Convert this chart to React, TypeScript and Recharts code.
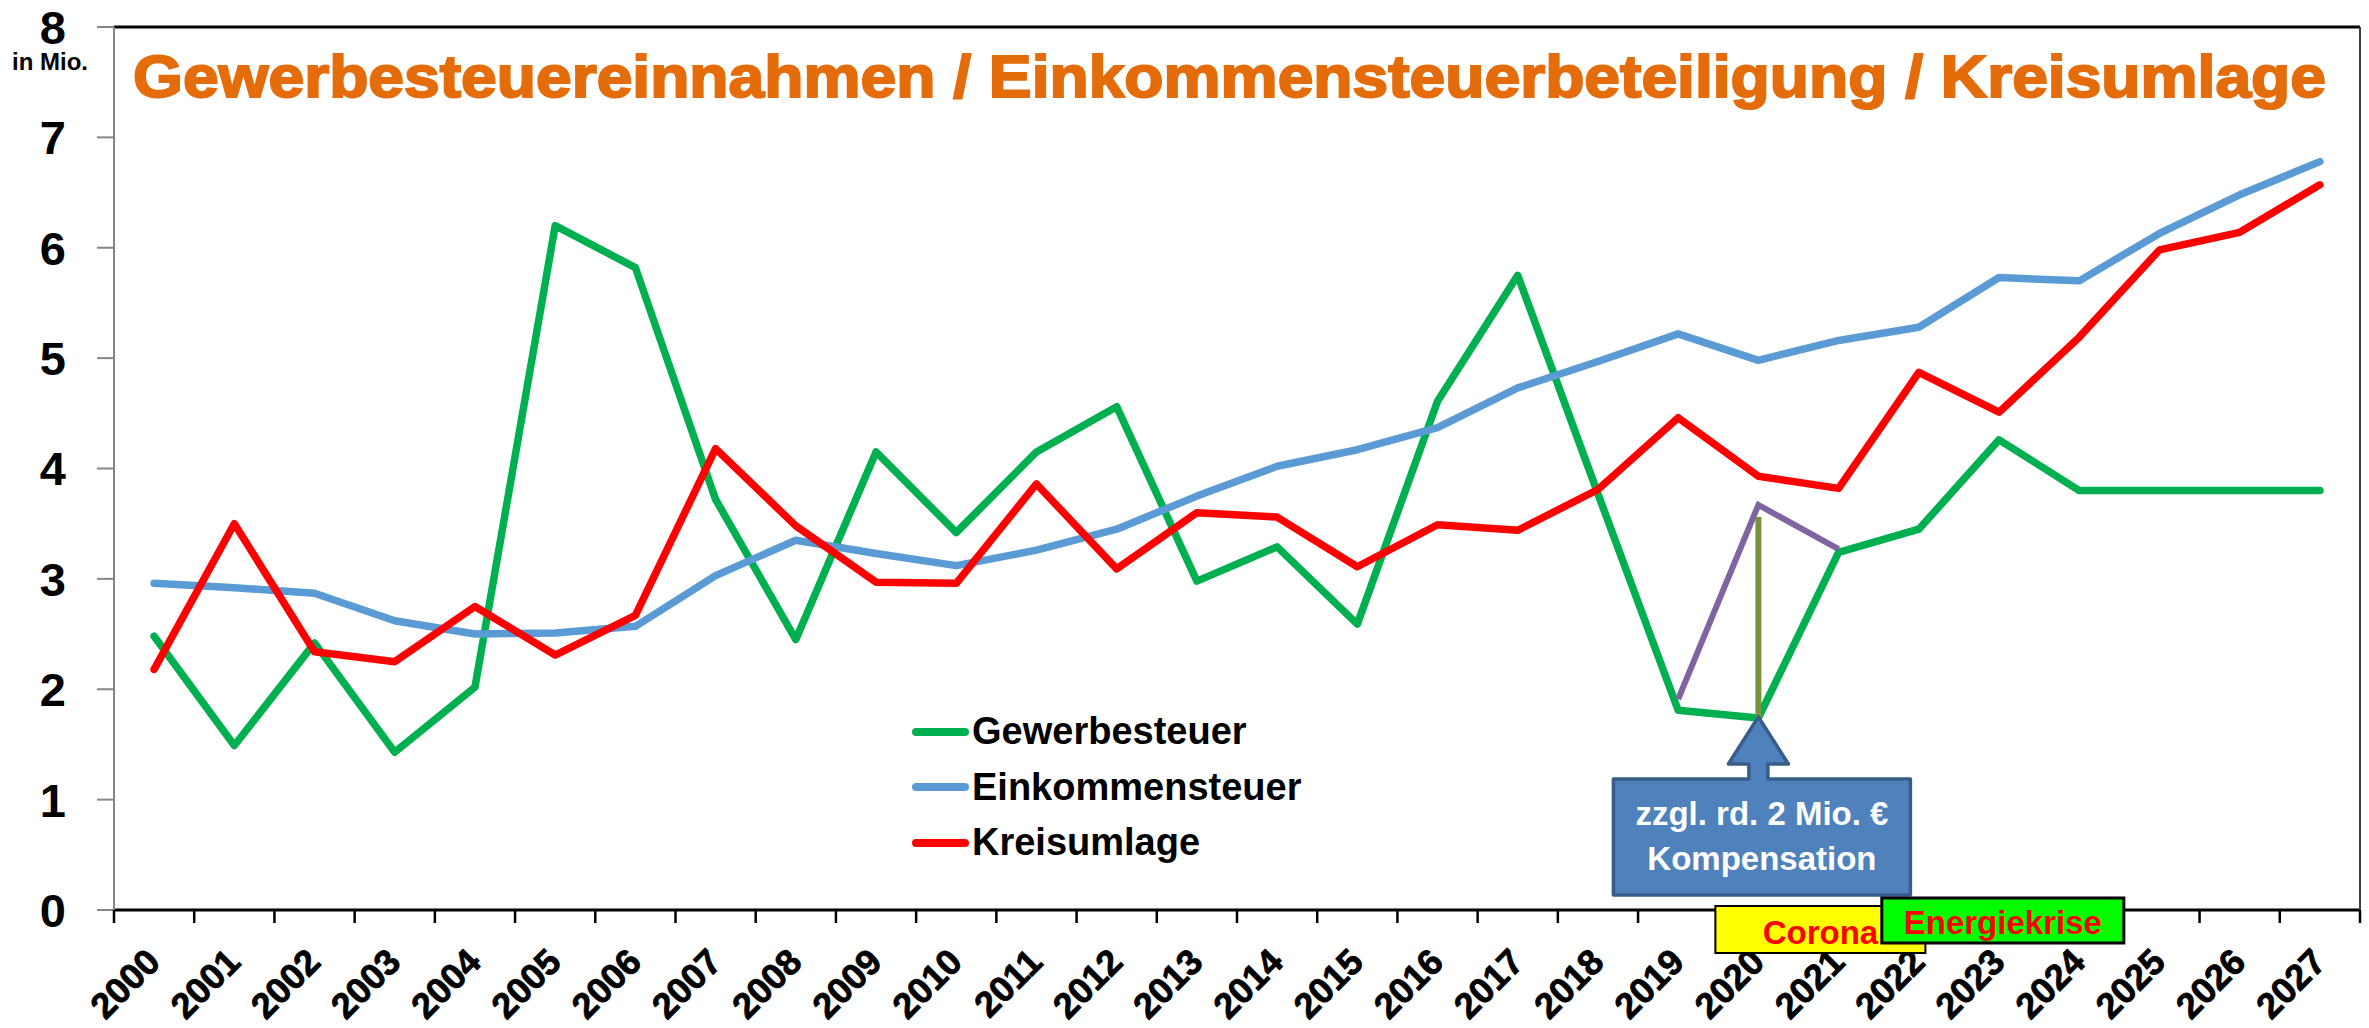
import React from 'react';
import {
  LineChart,
  Line,
  XAxis,
  YAxis,
  CartesianGrid,
  ReferenceLine,
  ReferenceDot,
  Legend,
} from 'recharts';

// ---------- data ----------
const years = [
  '2000', '2001', '2002', '2003', '2004', '2005', '2006', '2007', '2008', '2009',
  '2010', '2011', '2012', '2013', '2014', '2015', '2016', '2017', '2018', '2019',
  '2020', '2021', '2022', '2023', '2024', '2025', '2026', '2027',
];
const gewerbesteuer = [
  2.48, 1.49, 2.42, 1.43, 2.02, 6.2, 5.82, 3.72, 2.45, 4.15,
  3.42, 4.15, 4.56, 2.98, 3.29, 2.59, 4.61, 5.75, 3.77, 1.81,
  1.74, 3.24, 3.45, 4.26, 3.8, 3.8, 3.8, 3.8,
];
const einkommensteuer = [
  2.96, 2.92, 2.87, 2.62, 2.5, 2.51, 2.57, 3.03, 3.35, 3.23,
  3.12, 3.26, 3.45, 3.75, 4.02, 4.17, 4.37, 4.73, 4.97, 5.22,
  4.98, 5.16, 5.28, 5.73, 5.7, 6.13, 6.48, 6.78,
];
const kreisumlage = [
  2.18, 3.5, 2.34, 2.25, 2.75, 2.31, 2.67, 4.18, 3.48, 2.97,
  2.96, 3.86, 3.09, 3.6, 3.56, 3.11, 3.49, 3.44, 3.81, 4.46,
  3.93, 3.82, 4.87, 4.51, 5.19, 5.98, 6.14, 6.57,
];
const kompensation: (number | null)[] = [
  null, null, null, null, null, null, null, null, null, null,
  null, null, null, null, null, null, null, null, null, 1.91,
  3.67, 3.27, null, null, null, null, null, null,
];
const yTicks = [0, 1, 2, 3, 4, 5, 6, 7, 8];
const compensationYear = '2020';
const compensationTop = 3.56;
const coronaYear = '2020';
const energyYear = '2022';

const titleText = 'Gewerbesteuereinnahmen / Einkommensteuerbeteiligung / Kreisumlage';
const unitText = 'in Mio.';
const calloutLines = ['zzgl. rd. 2 Mio. €', 'Kompensation'];
const coronaText = 'Corona';
const energyText = 'Energiekrise';

const series = [
  { key: 'gewerbesteuer', name: 'Gewerbesteuer', color: '#00B050' },
  { key: 'einkommensteuer', name: 'Einkommensteuer', color: '#5B9BD5' },
  { key: 'kreisumlage', name: 'Kreisumlage', color: '#FF0000' },
];

const data = years.map((year, i) => ({
  year,
  gewerbesteuer: gewerbesteuer[i],
  einkommensteuer: einkommensteuer[i],
  kreisumlage: kreisumlage[i],
  kompensation: kompensation[i],
}));

// ---------- layout ----------
const W = 2369;
const H = 1028;
const PLOT_LEFT = 114;
const PLOT_RIGHT = 2360;
const PLOT_TOP = 27;
const PLOT_BOTTOM = 910;
const PLOT_WIDTH = PLOT_RIGHT - PLOT_LEFT;
const HALF_BAND = PLOT_WIDTH / years.length / 2;
const FONT = "'Liberation Sans', Arial, sans-serif";

function XTick(props: any) {
  const { x, y, payload, index } = props;
  const isLast = index === years.length - 1 || payload.value === years[years.length - 1];
  const ax = x + 8;
  const ay = y + 54;
  return (
    <g>
      <line x1={x - HALF_BAND} x2={x - HALF_BAND} y1={y} y2={y + 13} stroke="#000" strokeWidth={2.5} />
      {isLast && (
        <line x1={x + HALF_BAND} x2={x + HALF_BAND} y1={y} y2={y + 13} stroke="#000" strokeWidth={2.5} />
      )}
      <text
        x={ax}
        y={ay}
        textAnchor="end"
        transform={`rotate(-45 ${ax} ${ay})`}
        fontFamily={FONT}
        fontWeight="bold"
        fontSize={36}
        fill="#000"
        stroke="#000"
        strokeWidth={0.8}
      >
        {payload.value}
      </text>
    </g>
  );
}

function YTick(props: any) {
  const { x, y, payload } = props;
  return (
    <text
      x={x}
      y={y}
      dy="0.36em"
      textAnchor="end"
      fontFamily={FONT}
      fontWeight="bold"
      fontSize={47}
      fill="#000"
    >
      {payload.value}
    </text>
  );
}

function Callout(props: any) {
  const { cx, cy } = props;
  const tipY = cy - 1;
  const headY = cy + 46;
  const boxTop = cy + 61;
  const boxBottom = cy + 177;
  const boxL = cx - 145;
  const boxR = cx + 152;
  const d = [
    `M ${boxL} ${boxTop}`,
    `L ${cx - 9.5} ${boxTop}`,
    `L ${cx - 9.5} ${headY}`,
    `L ${cx - 30} ${headY}`,
    `L ${cx} ${tipY}`,
    `L ${cx + 30} ${headY}`,
    `L ${cx + 9.5} ${headY}`,
    `L ${cx + 9.5} ${boxTop}`,
    `L ${boxR} ${boxTop}`,
    `L ${boxR} ${boxBottom}`,
    `L ${boxL} ${boxBottom}`,
    'Z',
  ].join(' ');
  const tx = (boxL + boxR) / 2;
  return (
    <g>
      <path d={d} fill="#4F81BD" stroke="#385D8A" strokeWidth={3.5} strokeLinejoin="round" />
      <text x={tx} y={cy + 107} textAnchor="middle" fontFamily={FONT} fontWeight="bold" fontSize={33} fill="#fff">
        {calloutLines[0]}
      </text>
      <text x={tx} y={cy + 152} textAnchor="middle" fontFamily={FONT} fontWeight="bold" fontSize={33} fill="#fff">
        {calloutLines[1]}
      </text>
    </g>
  );
}

function CoronaBox(props: any) {
  const { cx, cy } = props;
  return (
    <g>
      <rect x={cx - 43} y={cy - 4} width={210} height={47} fill="#FFFF00" stroke="#000" strokeWidth={2} />
      <text x={cx + 62} y={cy + 34} textAnchor="middle" fontFamily={FONT} fontWeight="bold" fontSize={33} fill="#FF0000">
        {coronaText}
      </text>
    </g>
  );
}

function EnergyBox(props: any) {
  const { cx, cy } = props;
  return (
    <g>
      <rect x={cx - 37} y={cy - 12} width={242} height={45} fill="#00FF00" stroke="#000" strokeWidth={3} />
      <text x={cx + 84} y={cy + 24} textAnchor="middle" fontFamily={FONT} fontWeight="bold" fontSize={33} fill="#FF0000">
        {energyText}
      </text>
    </g>
  );
}

function LegendContent() {
  return (
    <div style={{ fontFamily: FONT, fontWeight: 'bold', fontSize: 38, color: '#000' }}>
      {series.map((s) => (
        <div key={s.key} style={{ display: 'flex', alignItems: 'center', height: 55.5 }}>
          <div style={{ width: 57, height: 8, borderRadius: 4, background: s.color, marginLeft: 7 }} />
          <span style={{ marginLeft: 3, lineHeight: '55px', whiteSpace: 'nowrap' }}>{s.name}</span>
        </div>
      ))}
    </div>
  );
}

export default function App() {
  return (
    <div style={{ position: 'absolute', left: 0, top: 0, width: W, height: H, background: '#fff' }}>
      <LineChart
        width={W}
        height={H}
        data={data}
        margin={{ top: PLOT_TOP, right: 0, bottom: 0, left: 0 }}
      >
        <CartesianGrid vertical={false} stroke="#868686" strokeWidth={2} />
        <XAxis
          dataKey="year"
          interval={0}
          height={H - PLOT_BOTTOM}
          padding={{ left: HALF_BAND, right: HALF_BAND }}
          tickLine={false}
          tickSize={0}
          tickMargin={0}
          axisLine={{ stroke: '#000', strokeWidth: 3 }}
          tick={<XTick />}
        />
        <YAxis
          yAxisId="left"
          type="number"
          domain={[0, 8]}
          ticks={yTicks}
          interval={0}
          width={PLOT_LEFT}
          tickSize={17}
          tickMargin={31}
          tickLine={{ stroke: '#868686', strokeWidth: 2 }}
          axisLine={{ stroke: '#868686', strokeWidth: 2 }}
          tick={<YTick />}
        />
        <YAxis
          yAxisId="right"
          orientation="right"
          type="number"
          domain={[0, 8]}
          width={W - PLOT_RIGHT}
          tick={false}
          tickLine={false}
          axisLine={{ stroke: '#404040', strokeWidth: 2 }}
        />
        <ReferenceLine yAxisId="left" y={8} stroke="#000" strokeWidth={3} />
        {series.map((s) => (
          <Line
            key={s.key}
            yAxisId="left"
            type="linear"
            dataKey={s.key}
            name={s.name}
            stroke={s.color}
            strokeWidth={7.5}
            strokeLinecap="round"
            strokeLinejoin="round"
            dot={false}
            activeDot={false}
            isAnimationActive={false}
          />
        ))}
        <Line
          yAxisId="left"
          type="linear"
          dataKey="kompensation"
          name="Kompensation"
          stroke="#8064A2"
          strokeWidth={6}
          dot={false}
          activeDot={false}
          connectNulls={false}
          legendType="none"
          isAnimationActive={false}
        />
        <ReferenceLine
          yAxisId="left"
          segment={[
            { x: compensationYear, y: gewerbesteuer[years.indexOf(compensationYear)] },
            { x: compensationYear, y: compensationTop },
          ]}
          stroke="#77933C"
          strokeWidth={6}
        />
        <Legend
          layout="vertical"
          align="center"
          verticalAlign="middle"
          content={<LegendContent />}
          wrapperStyle={{ left: 905, top: 704, width: 440, height: 170 }}
        />
        <ReferenceDot
          yAxisId="left"
          x={compensationYear}
          y={gewerbesteuer[years.indexOf(compensationYear)]}
          r={1}
          ifOverflow="visible"
          shape={<Callout />}
          zIndex={2500}
        />
        <ReferenceDot
          yAxisId="left"
          x={coronaYear}
          y={0}
          r={1}
          ifOverflow="visible"
          shape={<CoronaBox />}
          zIndex={2600}
        />
        <ReferenceDot
          yAxisId="left"
          x={energyYear}
          y={0}
          r={1}
          ifOverflow="visible"
          shape={<EnergyBox />}
          zIndex={2700}
        />
      </LineChart>
      <svg
        width={W}
        height={H}
        style={{ position: 'absolute', left: 0, top: 0, pointerEvents: 'none' }}
      >
        <text
          x={133}
          y={97}
          textLength={2193}
          lengthAdjust="spacingAndGlyphs"
          fontFamily={FONT}
          fontWeight="bold"
          fontSize={60}
          fill="#E46C0A"
          stroke="#E46C0A"
          strokeWidth={2}
        >
          {titleText}
        </text>
        <text
          x={12}
          y={70}
          textLength={76}
          lengthAdjust="spacingAndGlyphs"
          fontFamily={FONT}
          fontWeight="bold"
          fontSize={23}
          fill="#000"
        >
          {unitText}
        </text>
      </svg>
    </div>
  );
}
